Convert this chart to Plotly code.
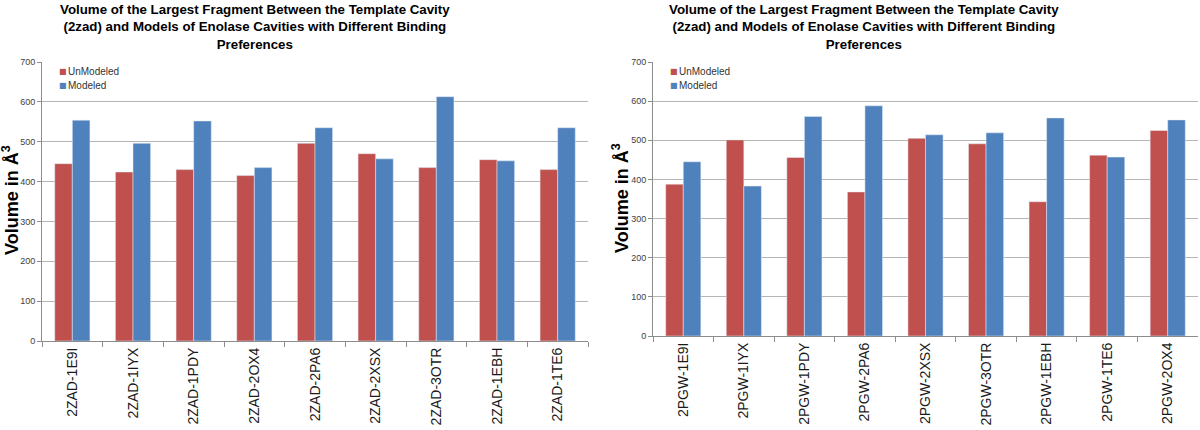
import plotly.graph_objects as go

left_categories = ["2ZAD-1E9I", "2ZAD-1IYX", "2ZAD-1PDY", "2ZAD-2OX4", "2ZAD-2PA6",
                   "2ZAD-2XSX", "2ZAD-3OTR", "2ZAD-1EBH", "2ZAD-1TE6"]
left_unmodeled = [445, 424, 430, 415, 496, 470, 435, 455, 430]
left_modeled = [554, 496, 552, 435, 535, 457, 613, 452, 535]

right_categories = ["2PGW-1E9I", "2PGW-1IYX", "2PGW-1PDY", "2PGW-2PA6", "2PGW-2XSX",
                    "2PGW-3OTR", "2PGW-1EBH", "2PGW-1TE6", "2PGW-2OX4"]
right_unmodeled = [388, 501, 456, 368, 505, 491, 343, 462, 525]
right_modeled = [445, 383, 561, 588, 514, 519, 557, 457, 552]

series_names = ["UnModeled", "Modeled"]
title_lines = ["Volume of the Largest Fragment Between the Template Cavity",
               "(2zad) and Models of Enolase Cavities with Different Binding",
               "Preferences"]
y_title = "Volume in Å<sup>3</sup>"

RED = "#C0504D"
BLUE = "#4F81BD"
W, H = 1200, 430
FONT = "Liberation Sans, Arial"

fig = go.Figure()
fig.add_trace(go.Bar(x=left_categories, y=left_unmodeled, name=series_names[0],
                     marker_color=RED, xaxis="x", yaxis="y", showlegend=False))
fig.add_trace(go.Bar(x=left_categories, y=left_modeled, name=series_names[1],
                     marker_color=BLUE, xaxis="x", yaxis="y", showlegend=False))
fig.add_trace(go.Bar(x=right_categories, y=right_unmodeled, name=series_names[0],
                     marker_color=RED, xaxis="x2", yaxis="y2", showlegend=False))
fig.add_trace(go.Bar(x=right_categories, y=right_modeled, name=series_names[1],
                     marker_color=BLUE, xaxis="x2", yaxis="y2", showlegend=False))


def px_x(p):
    return p / W


def px_y(p):
    return 1 - p / H


xcommon = dict(type="category", tickson="boundaries", ticks="outside", ticklen=5,
               tickcolor="#8c8c8c", showline=True, linecolor="#8c8c8c", linewidth=1,
               showgrid=False, tickangle=-90, automargin=False,
               tickfont=dict(family=FONT, size=14, color="#1a1a1a"))
ycommon = dict(range=[0, 700], dtick=100, ticks="outside", ticklen=4, tickcolor="#8c8c8c",
               showline=True, linecolor="#8c8c8c", linewidth=1, automargin=False,
               showgrid=True, gridcolor="#b5b5b5", gridwidth=1, zeroline=False,
               tickfont=dict(family=FONT, size=9, color="#404040"))

title_html = "<br>".join("<b>" + t + "</b>" for t in title_lines)

annotations = [
    dict(text=title_html, x=px_x(255), y=px_y(0), xref="paper", yref="paper",
         xanchor="center", yanchor="top", showarrow=False,
         font=dict(family=FONT, size=13.3, color="#000000")),
    dict(text=title_html, x=px_x(864), y=px_y(0), xref="paper", yref="paper",
         xanchor="center", yanchor="top", showarrow=False,
         font=dict(family=FONT, size=13.3, color="#000000")),
    dict(text="<b>" + y_title + "</b>", x=px_x(11), y=px_y(200), xref="paper", yref="paper",
         xanchor="center", yanchor="middle", textangle=-90, showarrow=False,
         font=dict(family=FONT, size=18, color="#000000")),
    dict(text="<b>" + y_title + "</b>", x=px_x(620), y=px_y(198), xref="paper", yref="paper",
         xanchor="center", yanchor="middle", textangle=-90, showarrow=False,
         font=dict(family=FONT, size=18, color="#000000")),
]

# legends (drawn as text inside each plot, top-left)
for lx in (57, 668):
    for i, (name, col) in enumerate(zip(series_names, [RED, BLUE])):
        yy = 72 + 14 * i
        annotations.append(dict(text="■", x=px_x(lx), y=px_y(yy), xref="paper", yref="paper",
                                xanchor="left", yanchor="middle", showarrow=False,
                                font=dict(family="DejaVu Sans", size=8, color=col)))
        annotations.append(dict(text=name, x=px_x(lx + 9), y=px_y(yy), xref="paper",
                                yref="paper", xanchor="left", yanchor="middle",
                                showarrow=False,
                                font=dict(family=FONT, size=10, color="#333333")))

fig.update_layout(
    width=W, height=H,
    margin=dict(l=0, r=0, t=0, b=0, pad=0),
    paper_bgcolor="white", plot_bgcolor="white",
    barmode="group", bargap=0.42, bargroupgap=0,
    xaxis=dict(domain=[px_x(42), px_x(588)], anchor="y", **xcommon),
    yaxis=dict(domain=[px_y(341), px_y(62)], anchor="x", **ycommon),
    xaxis2=dict(domain=[px_x(653), px_x(1198)], anchor="y2", **xcommon),
    yaxis2=dict(domain=[px_y(336), px_y(62)], anchor="x2", **ycommon),
    font=dict(family=FONT),
    showlegend=False,
    annotations=annotations,
)

fig.write_html("out.html", config={"displayModeBar": False},
               post_script="document.body.style.margin='0';document.body.style.overflow='hidden';")
